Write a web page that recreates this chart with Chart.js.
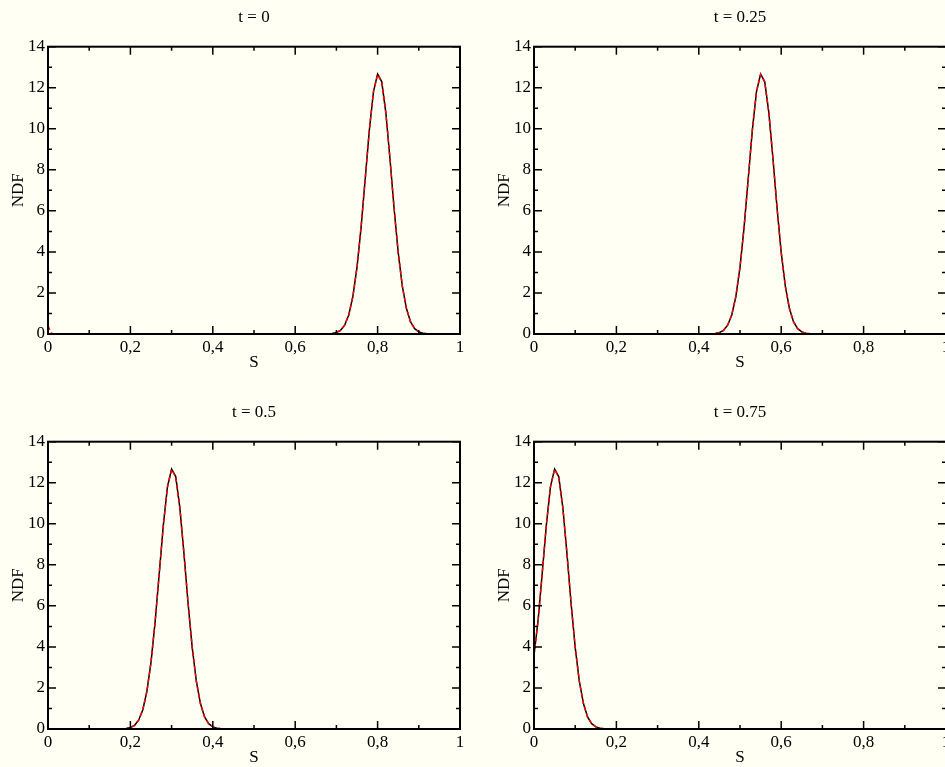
<!DOCTYPE html>
<html lang="en">
<head>
    <meta charset="UTF-8">
    <title>NDF vs S</title>
    <style>
        body {
            margin: 0;
            background-color: #fffff4;
            overflow: hidden;
        }
        .page {
            position: relative;
            width: 945px;
            height: 767px;
            overflow: hidden;
        }
        canvas {
            position: absolute;
        }
    </style>
</head>
<body>
    <div class="page">
        <canvas id="c0" width="472" height="380" style="left:0;top:0"></canvas>
        <canvas id="c1" width="472" height="380" style="left:486px;top:0"></canvas>
        <canvas id="c2" width="472" height="380" style="left:0;top:395px"></canvas>
        <canvas id="c3" width="472" height="380" style="left:486px;top:395px"></canvas>
    </div>

    <script src="https://cdn.jsdelivr.net/npm/chart.js"></script>
    <script>
        // tick labels
        const xTickLabels = ['0', '0,2', '0,4', '0,6', '0,8', '1'];
        const yTickLabels = ['0', '2', '4', '6', '8', '10', '12', '14'];

        // t = 0
        const sT0 = [0, 0.01, 0.66, 0.67, 0.68, 0.69, 0.70, 0.71, 0.72, 0.73, 0.74, 0.75, 0.76, 0.77, 0.78, 0.79,
            0.80, 0.81, 0.82, 0.83, 0.84, 0.85, 0.86, 0.87, 0.88, 0.89, 0.90, 0.91, 0.92, 0.93, 1];
        const ndfT0 = [0, 0, 0, 0, 0.01, 0.02, 0.07, 0.18, 0.43, 0.93, 1.83, 3.25, 5.22, 7.58, 9.95, 11.81,
            12.67, 12.30, 10.79, 8.55, 6.13, 3.98, 2.33, 1.24, 0.59, 0.26, 0.10, 0.04, 0.01, 0, 0];
        const ndfT0Fit = [0.38, 0, 0, 0, 0.01, 0.02, 0.07, 0.18, 0.43, 0.93, 1.83, 3.25, 5.22, 7.58, 9.95, 11.81,
            12.65, 12.28, 10.79, 8.55, 6.13, 3.98, 2.33, 1.24, 0.59, 0.26, 0.10, 0.04, 0.01, 0, 0];

        // t = 0.25
        const sT1 = [0, 0.41, 0.42, 0.43, 0.44, 0.45, 0.46, 0.47, 0.48, 0.49, 0.50, 0.51, 0.52, 0.53, 0.54,
            0.55, 0.56, 0.57, 0.58, 0.59, 0.60, 0.61, 0.62, 0.63, 0.64, 0.65, 0.66, 0.67, 0.68, 1];
        const ndfT1 = [0, 0, 0, 0.01, 0.02, 0.07, 0.18, 0.43, 0.93, 1.83, 3.25, 5.22, 7.58, 9.95, 11.81,
            12.67, 12.30, 10.79, 8.55, 6.13, 3.98, 2.33, 1.24, 0.59, 0.26, 0.10, 0.04, 0.01, 0, 0];
        const ndfT1Fit = [0, 0, 0, 0.01, 0.02, 0.07, 0.18, 0.43, 0.93, 1.83, 3.25, 5.22, 7.58, 9.95, 11.81,
            12.65, 12.28, 10.79, 8.55, 6.13, 3.98, 2.33, 1.24, 0.59, 0.26, 0.10, 0.04, 0.01, 0, 0];

        // t = 0.5
        const sT2 = [0, 0.16, 0.17, 0.18, 0.19, 0.20, 0.21, 0.22, 0.23, 0.24, 0.25, 0.26, 0.27, 0.28, 0.29,
            0.30, 0.31, 0.32, 0.33, 0.34, 0.35, 0.36, 0.37, 0.38, 0.39, 0.40, 0.41, 0.42, 0.43, 1];
        const ndfT2 = [0, 0, 0, 0.01, 0.02, 0.07, 0.18, 0.43, 0.93, 1.83, 3.25, 5.22, 7.58, 9.95, 11.81,
            12.67, 12.30, 10.79, 8.55, 6.13, 3.98, 2.33, 1.24, 0.59, 0.26, 0.10, 0.04, 0.01, 0, 0];
        const ndfT2Fit = [0, 0, 0, 0.01, 0.02, 0.07, 0.18, 0.43, 0.93, 1.83, 3.25, 5.22, 7.58, 9.95, 11.81,
            12.65, 12.28, 10.79, 8.55, 6.13, 3.98, 2.33, 1.24, 0.59, 0.26, 0.10, 0.04, 0.01, 0, 0];

        // t = 0.75
        const sT3 = [0, 0.01, 0.02, 0.03, 0.04, 0.05, 0.06, 0.07, 0.08, 0.09, 0.10, 0.11, 0.12, 0.13,
            0.14, 0.15, 0.16, 0.17, 0.18, 1];
        const ndfT3 = [3.6, 5.3, 7.6, 9.95, 11.81, 12.67, 12.30, 10.79, 8.55, 6.13, 3.98, 2.33, 1.24, 0.59,
            0.26, 0.10, 0.04, 0.01, 0, 0];
        const ndfT3Fit = [3.6, 5.3, 7.6, 9.95, 11.81, 12.65, 12.28, 10.79, 8.55, 6.13, 3.98, 2.33, 1.24, 0.59,
            0.26, 0.10, 0.04, 0.01, 0, 0];

        const panels = [
            { id: 'c0', title: 't = 0', s: sT0, ndf: ndfT0, fit: ndfT0Fit },
            { id: 'c1', title: 't = 0.25', s: sT1, ndf: ndfT1, fit: ndfT1Fit },
            { id: 'c2', title: 't = 0.5', s: sT2, ndf: ndfT2, fit: ndfT2Fit },
            { id: 'c3', title: 't = 0.75', s: sT3, ndf: ndfT3, fit: ndfT3Fit }
        ];

        const serif = 'Liberation Serif, Times New Roman, serif';

        // frame and inward ticks on all four sides, xmgrace style
        const frameTicks = {
            id: 'frameTicks',
            afterDraw(chart) {
                const { ctx, chartArea: a, scales: { x, y } } = chart;
                ctx.save();
                ctx.strokeStyle = '#000';
                ctx.lineWidth = 1.5;
                ctx.beginPath();
                for (let i = 0; i <= 10; i++) {
                    const px = x.getPixelForValue(i / 10);
                    const len = i % 2 ? 4 : 8;
                    ctx.moveTo(px, a.bottom);
                    ctx.lineTo(px, a.bottom - len);
                    ctx.moveTo(px, a.top);
                    ctx.lineTo(px, a.top + len);
                }
                for (let v = 0; v <= 14; v++) {
                    const py = y.getPixelForValue(v);
                    const len = v % 2 ? 4 : 8;
                    ctx.moveTo(a.left, py);
                    ctx.lineTo(a.left + len, py);
                    ctx.moveTo(a.right, py);
                    ctx.lineTo(a.right - len, py);
                }
                ctx.stroke();
                ctx.lineWidth = 2;
                ctx.strokeRect(a.left, a.top, a.right - a.left, a.bottom - a.top);
                ctx.restore();
            }
        };

        panels.forEach(p => {
            const ctx = document.getElementById(p.id).getContext('2d');
            new Chart(ctx, {
                type: 'line',
                data: {
                    datasets: [{
                        data: p.fit.map((v, i) => ({ x: p.s[i], y: v })),
                        borderColor: '#ff0000',
                        borderWidth: 1.5,
                        borderDash: [4, 3],
                        pointRadius: 0,
                        tension: 0,
                        order: 0
                    }, {
                        data: p.ndf.map((v, i) => ({ x: p.s[i], y: v })),
                        borderColor: '#000000',
                        borderWidth: 1.5,
                        pointRadius: 0,
                        tension: 0,
                        order: 1
                    }]
                },
                options: {
                    responsive: false,
                    animation: false,
                    layout: { padding: { left: 0, right: 12, top: 0, bottom: 0 } },
                    plugins: {
                        legend: { display: false },
                        tooltip: { enabled: false },
                        title: {
                            display: true,
                            text: p.title,
                            fullSize: false,
                            color: '#000',
                            font: { family: serif, size: 17, weight: 'normal', lineHeight: 1.2 },
                            padding: { top: 7, bottom: 19.3 }
                        }
                    },
                    scales: {
                        x: {
                            type: 'linear',
                            min: 0,
                            max: 1,
                            grid: { display: false, drawTicks: false },
                            border: { display: false },
                            ticks: {
                                stepSize: 0.2,
                                padding: 3,
                                color: '#000',
                                maxRotation: 0,
                                font: { family: serif, size: 17 },
                                callback: (v, i) => xTickLabels[i]
                            },
                            title: {
                                display: true,
                                text: 'S',
                                color: '#000',
                                font: { family: serif, size: 17, lineHeight: 1.2 },
                                padding: { top: 0, bottom: 6.8 }
                            },
                            afterFit: s => { s.height = 46; }
                        },
                        y: {
                            min: 0,
                            max: 14,
                            grid: { display: false, drawTicks: false },
                            border: { display: false },
                            ticks: {
                                stepSize: 2,
                                padding: 3,
                                color: '#000',
                                font: { family: serif, size: 17 },
                                callback: (v, i) => yTickLabels[i]
                            },
                            title: {
                                display: true,
                                text: 'NDF',
                                color: '#000',
                                font: { family: serif, size: 17, lineHeight: 1.2 },
                                padding: { top: 8.3, bottom: 0 }
                            },
                            afterFit: s => { s.width = 48; }
                        }
                    }
                },
                plugins: [frameTicks]
            });
        });
    </script>
</body>
</html>
